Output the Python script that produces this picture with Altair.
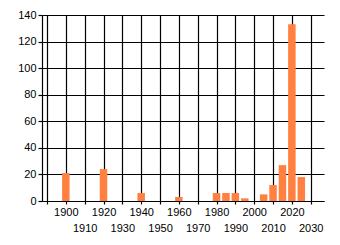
import altair as alt
import pandas as pd

years = [1900, 1920, 1940, 1960, 1980, 1985, 1990, 1995, 2005, 2010, 2015, 2020, 2025]
counts = [21, 24, 6, 3, 6, 6, 6, 2, 5, 12, 27, 133, 18]
x_ticks = list(range(1890, 2031, 10))
y_ticks = list(range(0, 141, 20))

df = pd.DataFrame({"year": years, "count": counts})

label_expr = ("datum.value == 1890 ? '' : "
              "(datum.value % 20 == 0 ? datum.label : ['', datum.label])")

chart = alt.Chart(df).mark_bar(size=7.5, color="#FF8040").encode(
    x=alt.X("year:Q",
            scale=alt.Scale(domain=[1890, 2034.4], nice=False, zero=False),
            axis=alt.Axis(values=x_ticks, title=None, grid=True, format="d",
                          labelExpr=label_expr, labelOverlap=False,
                          labelFlush=False, tickSize=3, labelLineHeight=16,
                          labelPadding=2)),
    y=alt.Y("count:Q",
            scale=alt.Scale(domain=[0, 140], nice=False),
            axis=alt.Axis(values=y_ticks, title=None, tickSize=4,
                          labelPadding=2, grid=True)),
).properties(
    width=282, height=186,
    padding={"left": 42, "top": 15, "right": 16, "bottom": 44},
    autosize="none",
).configure_view(strokeWidth=0).configure_axis(
    gridColor="black", gridOpacity=1, gridWidth=1.2,
    domainColor="black", domainWidth=1.2,
    tickColor="black", tickWidth=1.2,
    labelColor="black", labelFont="Liberation Sans", labelFontSize=11,
)

chart.save("out.html", embed_options={"renderer": "svg", "actions": False})
